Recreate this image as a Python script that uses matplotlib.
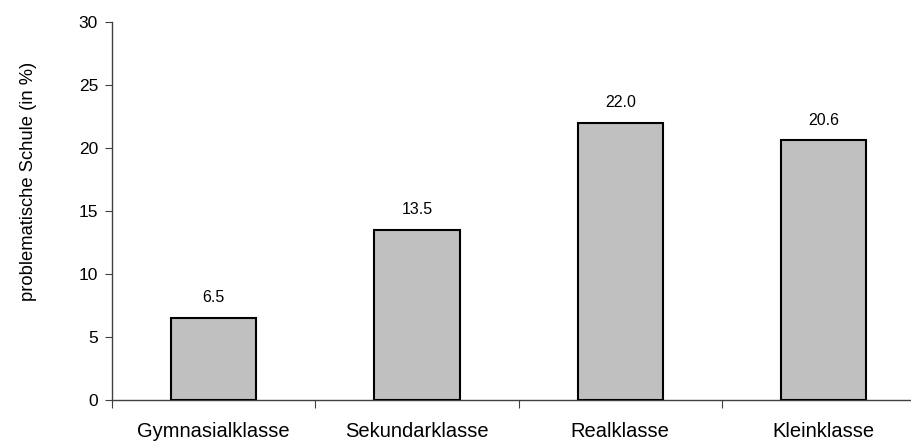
import matplotlib
matplotlib.use("Agg")
import matplotlib.pyplot as plt

plt.rcParams['font.family'] = ['Liberation Sans', 'DejaVu Sans']

categories = ["Gymnasialklasse", "Sekundarklasse", "Realklasse", "Kleinklasse"]
values = [6.5, 13.5, 22.0, 20.6]
yticks = [0, 5, 10, 15, 20, 25, 30]

fig = plt.figure(figsize=(9.12, 4.41), dpi=100)
ax = fig.add_axes([0.1228, 0.0941, 0.8772, 0.8553])

x = list(range(len(categories)))
bars = ax.bar(x, values, width=0.42, color="#C0C0C0", edgecolor="black", linewidth=1.5, zorder=3)

for xi, v in zip(x, values):
    ax.annotate(f"{v:.1f}", (xi, v), xytext=(0, 9), textcoords="offset points",
                ha="center", va="bottom", fontsize=11.5)

ax.set_ylim(0, 30)
ax.set_yticks(yticks)
ax.set_xlim(-0.5, -0.5 + 800 / 203.3)

# category separators as major ticks, labels on minor ticks
ax.set_xticks([-0.5, 0.5, 1.5, 2.5])
ax.set_xticklabels([])
ax.set_xticks(x, minor=True)
ax.set_xticklabels(categories, minor=True, fontsize=14.5)
ax.tick_params(axis="x", which="minor", length=0, pad=16)
ax.tick_params(axis="x", which="major", length=6, direction="out", color="#404040")
ax.tick_params(axis="y", length=5, labelsize=12.5, color="#404040", pad=5)

for s in ["top", "right"]:
    ax.spines[s].set_visible(False)
for s in ["left", "bottom"]:
    ax.spines[s].set_color("#404040")
    ax.spines[s].set_linewidth(1)

ax.set_ylabel("problematische Schule (in %)", fontsize=13.2)
ax.yaxis.set_label_coords(-0.094, 0.577)

fig.savefig("out.png", dpi=100)
